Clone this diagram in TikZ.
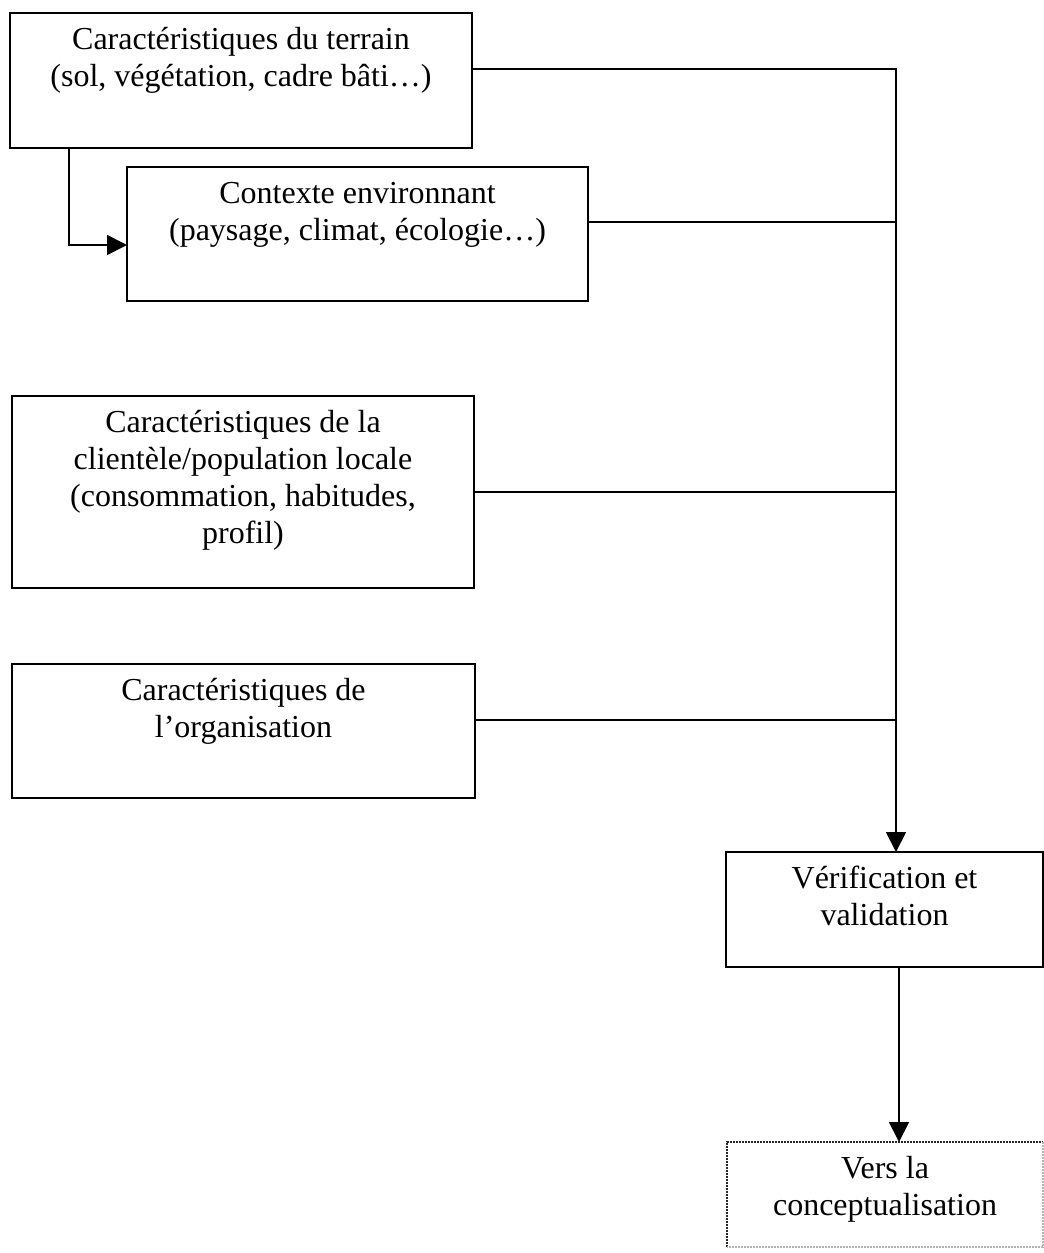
\documentclass[tikz,border=0pt]{standalone}
\usepackage{fontspec}
\setmainfont{Liberation Serif}
\usetikzlibrary{arrows.meta}

% text block of a box: fixed size, lines centred and set from the top
\newcommand\cellbody[3]{\parbox[c][#2][t]{#1}{\centering\vspace*{11pt}\strut #3\par}}

\begin{document}
\begin{tikzpicture}[x=1pt, y=-1pt,
  box/.style={draw, line width=1.8pt, inner sep=0pt, outer sep=0pt,
              anchor=north west, font=\fontsize{32}{37}\selectfont},
  dotline/.style={line width=1.8pt, dash pattern=on 1.6pt off 1.4pt},
  link/.style={line width=1.8pt},
  arr/.style={link, -{Triangle[length=20pt, width=20pt]}}]

\useasboundingbox (0,0) rectangle (1044,1253);
\fill[white] (0,0) rectangle (1044,1253);

% input boxes
\node[box] (A) at (10,13)
  {\cellbody{462pt}{135pt}{Caractéristiques du terrain\\(sol, végétation, cadre bâti…)}};
\node[box] (B) at (127,167)
  {\cellbody{461pt}{134pt}{Contexte environnant\\(paysage, climat, écologie…)}};
\node[box] (C) at (12,396)
  {\cellbody{462pt}{192pt}{Caractéristiques de la\\clientèle/population locale\\(consommation, habitudes,\\profil)}};
\node[box] (D) at (12,664)
  {\cellbody{463pt}{134pt}{Caractéristiques de\\l’organisation}};

% checking step and outcome
\node[box] (E) at (726,852)
  {\cellbody{317pt}{115pt}{Vérification et\\validation}};
\node[box, draw=none] (F) at (727,1142)
  {\cellbody{316pt}{105pt}{Vers la\\conceptualisation}};
\draw[dotline, black!85] (F.south west) -- (F.north west) -- (F.north east);
\draw[dotline, black!30] (F.north east) -- (F.south east) -- (F.south west);

% guide positions of the vertical runs
\coordinate (trunk) at (896,0);
\coordinate (leg) at (69,0);
\coordinate (drop) at (899,0);

% collector line into the checking step
\draw[arr] ([yshift=11.5pt]A.east) -| (E.north -| trunk);
\draw[link] ([yshift=12pt]B.east) -- ([yshift=12pt]B.east -| trunk);
\draw[link] (C.east) -- (C.east -| trunk);
\draw[link] ([yshift=11pt]D.east) -- ([yshift=11pt]D.east -| trunk);

% terrain feeds the surrounding context
\draw[arr] (A.south -| leg) |- ([yshift=-11pt]B.west);

% checking step leads on
\draw[arr] (E.south -| drop) -- (F.north -| drop);

\end{tikzpicture}
\end{document}
